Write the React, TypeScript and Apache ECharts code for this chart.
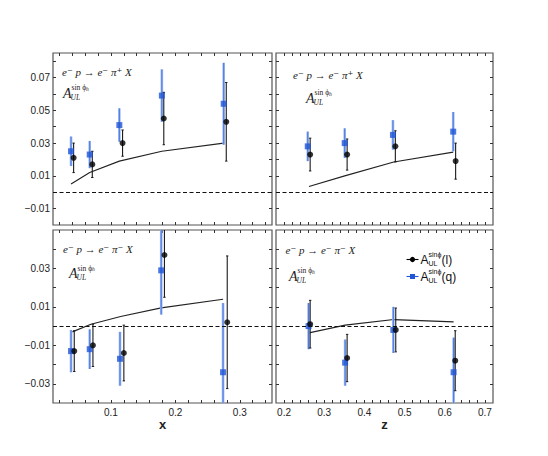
import React, { useEffect, useRef } from "react";
import * as echarts from "echarts";

// ---- axis ranges & ticks ----
const xRange = [0.01, 0.35];
const zRange = [0.18, 0.72];
const yRangeTop = [-0.02, 0.085];
const yRangeBottom = [-0.04, 0.05];

const xTickLabels = [0.1, 0.2, 0.3];
const xTicks = [0.02, 0.04, 0.06, 0.08, 0.1, 0.12, 0.14, 0.16, 0.18, 0.2, 0.22, 0.24, 0.26, 0.28, 0.3, 0.32, 0.34];
const zTickLabels = [0.2, 0.3, 0.4, 0.5, 0.6, 0.7];
const zTicks = [0.2, 0.22, 0.24, 0.26, 0.28, 0.3, 0.32, 0.34, 0.36, 0.38, 0.4, 0.42, 0.44, 0.46, 0.48, 0.5, 0.52, 0.54, 0.56, 0.58, 0.6, 0.62, 0.64, 0.66, 0.68, 0.7];
const yTopLabels = [-0.01, 0.01, 0.03, 0.05, 0.07];
const yTopTicks = [-0.01, 0, 0.01, 0.02, 0.03, 0.04, 0.05, 0.06, 0.07, 0.08];
const yBottomLabels = [-0.03, -0.01, 0.01, 0.03];
const yBottomTicks = [-0.03, -0.02, -0.01, 0, 0.01, 0.02, 0.03, 0.04];

// ---- Top-left: e- p -> e- pi+ X vs x ----
const xPipQ = [0.038, 0.067, 0.113, 0.179, 0.275];
const aPipQx = [0.025, 0.023, 0.041, 0.059, 0.054];
const ePipQx = [0.009, 0.0083, 0.0102, 0.016, 0.025];
const xPipL = [0.042, 0.071, 0.118, 0.182, 0.279];
const aPipLx = [0.021, 0.017, 0.03, 0.045, 0.043];
const ePipLx = [0.009, 0.008, 0.008, 0.016, 0.024];
const xPipTh = [0.038, 0.067, 0.113, 0.179, 0.275];
const aPipThx = [0.005, 0.012, 0.019, 0.025, 0.03];

// ---- Top-right: e- p -> e- pi+ X vs z ----
const zPipQ = [0.259, 0.351, 0.471, 0.621];
const aPipQz = [0.028, 0.03, 0.035, 0.037];
const ePipQz = [0.009, 0.009, 0.009, 0.012];
const zPipL = [0.265, 0.357, 0.477, 0.627];
const aPipLz = [0.023, 0.023, 0.028, 0.019];
const ePipLz = [0.01, 0.0095, 0.0095, 0.011];
const zPipTh = [0.262, 0.351, 0.473, 0.621];
const aPipThz = [0.0035, 0.01, 0.0185, 0.0245];

// ---- Bottom-left: e- p -> e- pi- X vs x ----
const xPimQ = [0.038, 0.067, 0.114, 0.178, 0.274];
const aPimQx = [-0.013, -0.012, -0.017, 0.029, -0.024];
const ePimQx = [0.011, 0.0103, 0.014, 0.023, 0.036];
const xPimL = [0.043, 0.072, 0.12, 0.183, 0.2805];
const aPimLx = [-0.013, -0.01, -0.014, 0.037, 0.002];
const ePimLx = [0.0106, 0.011, 0.0145, 0.022, 0.0345];
const xPimTh = [0.04, 0.069, 0.115, 0.178, 0.274];
const aPimThx = [-0.003, 0.001, 0.005, 0.0095, 0.014];

// ---- Bottom-right: e- p -> e- pi- X vs z ----
const zPimQ = [0.261, 0.352, 0.472, 0.622];
const aPimQz = [0.0, -0.019, -0.002, -0.024];
const ePimQz = [0.012, 0.012, 0.012, 0.018];
const zPimL = [0.265, 0.357, 0.478, 0.626];
const aPimLz = [0.001, -0.0166, -0.002, -0.018];
const ePimLz = [0.0124, 0.0123, 0.0114, 0.0156];
const zPimTh = [0.262, 0.352, 0.473, 0.622];
const aPimThz = [-0.0035, 0.0005, 0.0034, 0.0022];

const reactionPlus = "e\u207B p \u2192 e\u207B \u03C0\u207A X";
const reactionMinus = "e\u207B p \u2192 e\u207B \u03C0\u207B X";
const legendNames = ["(l)", "(q)"];

const BLUE = "#1f55d6";
const BLUE_LIGHT = "#9db8ee";
const SANS = "'Liberation Sans', Arial, sans-serif";
const SERIF = "'Liberation Serif', 'DejaVu Serif', serif";

const grids = [
  { left: 53, top: 53, width: 219, height: 172 },
  { left: 276, top: 53, width: 217, height: 172 },
  { left: 53, top: 230, width: 219, height: 173 },
  { left: 276, top: 230, width: 217, height: 173 },
];

const zip3 = (a: number[], b: number[], c: number[]) => a.map((v, i) => [v, b[i], c[i]]);
const zip2 = (a: number[], b: number[]) => a.map((v, i) => [v, b[i]]);

const fmtY = (v: number) => {
  const s = Math.abs(v).toFixed(2);
  return v < 0 ? "\u2212" + s : s;
};
const fmtX = (v: number) => Number(v).toFixed(1);

function errRender(kind: "q" | "l") {
  return (params: any, api: any) => {
    const x = api.value(0);
    const y = api.value(1);
    const e = api.value(2);
    const cs = params.coordSys;
    const pLo = api.coord([x, y - e]);
    const pHi = api.coord([x, y + e]);
    const top = cs.y;
    const bot = cs.y + cs.height;
    const yHi = Math.max(top, pHi[1]);
    const yLo = Math.min(bot, pLo[1]);
    const px = pLo[0];
    const children: any[] = [];
    if (kind === "q") {
      children.push({
        type: "line",
        shape: { x1: px, y1: yHi, x2: px, y2: yLo },
        style: { stroke: BLUE_LIGHT, lineWidth: 2.6 },
      });
      children.push({
        type: "line",
        shape: { x1: px, y1: yHi, x2: px, y2: yLo },
        style: { stroke: "#3d6fe0", lineWidth: 0.9 },
      });
    } else {
      children.push({
        type: "line",
        shape: { x1: px, y1: yHi, x2: px, y2: yLo },
        style: { stroke: "#1a1a1a", lineWidth: 1.1 },
      });
      if (pHi[1] >= top)
        children.push({ type: "line", shape: { x1: px - 1.2, y1: yHi, x2: px + 1.2, y2: yHi }, style: { stroke: "#1a1a1a", lineWidth: 1 } });
      if (pLo[1] <= bot)
        children.push({ type: "line", shape: { x1: px - 1.2, y1: yLo, x2: px + 1.2, y2: yLo }, style: { stroke: "#1a1a1a", lineWidth: 1 } });
    }
    return { type: "group", children };
  };
}

const panels = [
  {
    xr: xRange, yr: yRangeTop, xt: xTicks, xl: xTickLabels, yt: yTopTicks, yl: yTopLabels,
    q: zip3(xPipQ, aPipQx, ePipQx), l: zip3(xPipL, aPipLx, ePipLx), th: zip2(xPipTh, aPipThx),
    showX: false, showY: true, name: "",
  },
  {
    xr: zRange, yr: yRangeTop, xt: zTicks, xl: zTickLabels, yt: yTopTicks, yl: yTopLabels,
    q: zip3(zPipQ, aPipQz, ePipQz), l: zip3(zPipL, aPipLz, ePipLz), th: zip2(zPipTh, aPipThz),
    showX: false, showY: false, name: "",
  },
  {
    xr: xRange, yr: yRangeBottom, xt: xTicks, xl: xTickLabels, yt: yBottomTicks, yl: yBottomLabels,
    q: zip3(xPimQ, aPimQx, ePimQx), l: zip3(xPimL, aPimLx, ePimLx), th: zip2(xPimTh, aPimThx),
    showX: true, showY: true, name: "x",
  },
  {
    xr: zRange, yr: yRangeBottom, xt: zTicks, xl: zTickLabels, yt: yBottomTicks, yl: yBottomLabels,
    q: zip3(zPimQ, aPimQz, ePimQz), l: zip3(zPimL, aPimLz, ePimLz), th: zip2(zPimTh, aPimThz),
    showX: true, showY: false, name: "z",
  },
];

const tickStyle = { color: "#333", width: 1 };

function buildOption() {
  const xAxis: any[] = [];
  const yAxis: any[] = [];
  const series: any[] = [];
  panels.forEach((p, g) => {
    xAxis.push({
      type: "value", gridIndex: g, position: "bottom", min: p.xr[0], max: p.xr[1],
      axisLine: { show: false, onZero: false }, splitLine: { show: false },
      axisTick: { show: true, inside: true, length: 3, lineStyle: tickStyle, customValues: p.xt },
      axisLabel: { show: p.showX, customValues: p.xl, formatter: fmtX, margin: 4, fontSize: 10, color: "#222", fontFamily: SANS },
      name: p.name, nameLocation: "middle", nameGap: 13,
      nameTextStyle: { fontSize: 13, fontWeight: "bold", color: "#222", fontFamily: SANS, verticalAlign: "top" },
    });
    xAxis.push({
      type: "value", gridIndex: g, position: "top", min: p.xr[0], max: p.xr[1],
      axisLine: { show: false, onZero: false }, splitLine: { show: false },
      axisTick: { show: true, inside: true, length: 3, lineStyle: tickStyle, customValues: p.xt },
      axisLabel: { show: false },
    });
    yAxis.push({
      type: "value", gridIndex: g, position: "left", min: p.yr[0], max: p.yr[1],
      axisLine: { show: false, onZero: false }, splitLine: { show: false },
      axisTick: { show: true, inside: true, length: 3, lineStyle: tickStyle, customValues: p.yt },
      axisLabel: { show: p.showY, customValues: p.yl, formatter: fmtY, margin: 3, fontSize: 10, color: "#222", fontFamily: SANS },
    });
    yAxis.push({
      type: "value", gridIndex: g, position: "right", min: p.yr[0], max: p.yr[1],
      axisLine: { show: false, onZero: false }, splitLine: { show: false },
      axisTick: { show: true, inside: true, length: 3, lineStyle: tickStyle, customValues: p.yt },
      axisLabel: { show: false },
    });
    const xi = 2 * g;
    const yi = 2 * g;
    series.push({
      type: "line", xAxisIndex: xi, yAxisIndex: yi, data: p.th, showSymbol: false, symbol: "none",
      lineStyle: { color: "#222", width: 1.1 }, z: 2,
      markLine: {
        silent: true, symbol: ["none", "none"], label: { show: false },
        lineStyle: { color: "#111", type: [4, 2.5], width: 1.2 },
        data: [{ yAxis: 0 }],
      },
    });
    series.push({
      type: "custom", xAxisIndex: xi, yAxisIndex: yi, data: p.q, renderItem: errRender("q"),
      encode: { x: 0, y: 1 }, z: 3,
    });
    series.push({
      type: "custom", xAxisIndex: xi, yAxisIndex: yi, data: p.l, renderItem: errRender("l"),
      encode: { x: 0, y: 1 }, z: 3,
    });
    series.push({
      type: "scatter", xAxisIndex: xi, yAxisIndex: yi, data: p.q.map((d) => [d[0], d[1]]),
      symbol: "rect", symbolSize: 6, itemStyle: { color: BLUE }, z: 4,
    });
    series.push({
      type: "scatter", xAxisIndex: xi, yAxisIndex: yi, data: p.l.map((d) => [d[0], d[1]]),
      symbol: "circle", symbolSize: 6, itemStyle: { color: "#000" }, z: 4,
    });
  });

  const graphic: any[] = [];
  const annot = [
    { rx: 62, ry: 71.5, ax: 63, ay: 93, txt: reactionPlus },
    { rx: 293, ry: 74.5, ax: 306, ay: 98, txt: reactionPlus },
    { rx: 63, ry: 249, ax: 69, ay: 273.5, txt: reactionMinus },
    { rx: 285.5, ry: 250, ax: 289, ay: 276, txt: reactionMinus },
  ];
  annot.forEach((a) => {
    graphic.push({
      type: "text", x: a.rx, y: a.ry, z: 10,
      style: { text: a.txt, font: `italic 11px ${SERIF}`, fill: "#222", verticalAlign: "middle", align: "left" },
    });
    graphic.push({
      type: "text", x: a.ax, y: a.ay, z: 10,
      style: { text: "A", font: `italic 14px ${SERIF}`, fill: "#222", verticalAlign: "middle", align: "left" },
    });
    graphic.push({
      type: "text", x: a.ax + 8.5, y: a.ay - 5.5, z: 10,
      style: {
        text: "{s|sin \u03D5}{h|h}", verticalAlign: "middle", align: "left", fill: "#222",
        rich: {
          s: { fontSize: 7.5, fontFamily: SERIF, fill: "#222" },
          h: { fontSize: 5.5, fontFamily: SERIF, fontStyle: "italic", fill: "#222", verticalAlign: "bottom" },
        },
      },
    });
    graphic.push({
      type: "text", x: a.ax + 7.5, y: a.ay + 4, z: 10,
      style: { text: "UL", font: `italic 7.5px ${SERIF}`, fill: "#222", verticalAlign: "middle", align: "left" },
    });
  });

  // legend
  const rows = [
    { y: 259.5, name: legendNames[0], kind: "l" },
    { y: 276.5, name: legendNames[1], kind: "q" },
  ];
  rows.forEach((r) => {
    const col = r.kind === "l" ? "#000" : BLUE;
    graphic.push({ type: "line", z: 10, shape: { x1: 406.5, y1: r.y, x2: 418.5, y2: r.y }, style: { stroke: col, lineWidth: 1.1 } });
    if (r.kind === "l") graphic.push({ type: "circle", z: 11, shape: { cx: 412.5, cy: r.y, r: 2.6 }, style: { fill: "#000" } });
    else graphic.push({ type: "rect", z: 11, shape: { x: 410, y: r.y - 2.5, width: 5, height: 5 }, style: { fill: BLUE } });
    graphic.push({
      type: "text", x: 420.5, y: r.y + 0.5, z: 10,
      style: { text: "A", font: `12px ${SANS}`, fill: "#111", verticalAlign: "middle", align: "left" },
    });
    graphic.push({
      type: "text", x: 428.5, y: r.y - 5, z: 10,
      style: { text: "sin\u03D5", font: `7px ${SANS}`, fill: "#111", verticalAlign: "middle", align: "left" },
    });
    graphic.push({
      type: "text", x: 428.5, y: r.y + 3.5, z: 10,
      style: { text: "UL", font: `7px ${SANS}`, fill: "#111", verticalAlign: "middle", align: "left" },
    });
    graphic.push({
      type: "text", x: 441.5, y: r.y + 0.5, z: 10,
      style: { text: r.name, font: `12px ${SANS}`, fill: "#111", verticalAlign: "middle", align: "left" },
    });
  });

  return {
    animation: false,
    backgroundColor: "#fff",
    grid: grids.map((g) => ({ ...g, show: true, borderColor: "#555", borderWidth: 1.2, backgroundColor: "transparent" })),
    xAxis,
    yAxis,
    series,
    graphic,
  };
}

export default function App() {
  const ref = useRef<HTMLDivElement>(null);
  useEffect(() => {
    if (!ref.current) return;
    const chart = echarts.init(ref.current, undefined, { renderer: "svg" });
    chart.setOption(buildOption() as any);
    return () => chart.dispose();
  }, []);
  return <div ref={ref} style={{ position: "fixed", left: 0, top: 0, width: 548, height: 456 }} />;
}
